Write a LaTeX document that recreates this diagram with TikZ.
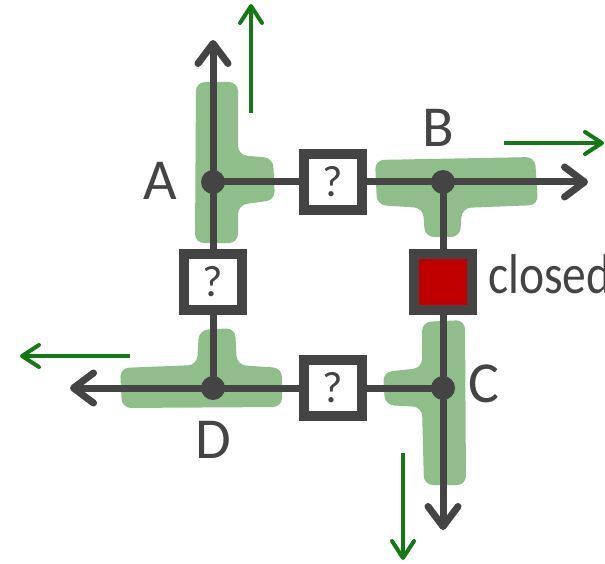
\documentclass[tikz,border=0pt]{standalone}
\usepackage{fontspec}
\setmainfont{Carlito}
\newfontfamily\narrowfont[FakeStretch=0.85]{Carlito}
\usetikzlibrary{arrows.meta}
\definecolor{pipe}{RGB}{68,68,68}
\definecolor{blob}{RGB}{143,190,139}
\definecolor{flow}{RGB}{20,120,20}
\definecolor{valvered}{RGB}{192,0,0}
\begin{document}
\begin{tikzpicture}[x=1pt,y=-1pt,
 pipeline/.style={draw=pipe,line width=7pt,line cap=round},
 pipearrow/.style={pipeline,-{Straight Barb[length=20pt,width=30pt,round]}},
 flowarrow/.style={draw=flow,line width=4pt,-{Straight Barb[length=17pt,width=22pt,round]}},
 junction/.style={circle,fill=pipe,minimum size=24pt,inner sep=0pt},
 valve/.style={draw=pipe,fill=white,line width=10pt,minimum width=58pt,minimum height=56pt,inner sep=0pt,text=pipe,font=\fontsize{44}{48}\selectfont},
 lbl/.style={text=pipe,font=\fontsize{58}{62}\selectfont,inner sep=0pt},
 blobfill/.style={fill=blob,rounded corners=9pt}]
\useasboundingbox (0,0) rectangle (605,564);
% green regions
\fill[blobfill] (196,82) -- (238,82) -- (238,155) -- (273,158) -- (275,200) -- (238,205) -- (238,243) -- (195,243) -- cycle;
\fill[blobfill] (375,160) -- (535,157) -- (538,205) -- (462,208) -- (460,237) -- (425,237) -- (423,208) -- (377,205) -- cycle;
\fill[blobfill] (422,322) -- (465,320) -- (466,485) -- (424,485) -- (422,407) -- (385,405) -- (383,372) -- (422,368) -- cycle;
\fill[blobfill] (120,368) -- (197,365) -- (199,330) -- (235,328) -- (237,365) -- (282,368) -- (282,407) -- (122,408) -- cycle;
% junctions
\node[junction] (A) at (213,182) {};
\node[junction] (B) at (443,182) {};
\node[junction] (C) at (443,388) {};
\node[junction] (D) at (213,388) {};
% valves
\node[valve] (vAB) at (333,182) {?};
\node[valve] (vAD) at (213,282) {?};
\node[valve] (vDC) at (333,388) {?};
\node[valve,fill=valvered] (vBC) at (443,282) {};
% pipe end points
\coordinate (Aend) at (213,40);
\coordinate (Bend) at (588,182);
\coordinate (Cend) at (443,530);
\coordinate (Dend) at (70,388);
% pipes
\draw[pipeline] (A) -- (vAB);
\draw[pipeline] (vAB) -- (B);
\draw[pipeline] (A) -- (vAD);
\draw[pipeline] (vAD) -- (D);
\draw[pipeline] (D) -- (vDC);
\draw[pipeline] (vDC) -- (C);
\draw[pipeline] (B) -- (vBC);
\draw[pipeline] (vBC) -- (C);
\draw[pipearrow] (A) -- (Aend);
\draw[pipearrow] (B) -- (Bend);
\draw[pipearrow] (C) -- (Cend);
\draw[pipearrow] (D) -- (Dend);
% flow arrows
\coordinate (gA0) at (251,113); \coordinate (gA1) at (251,4);
\coordinate (gB0) at (504,143); \coordinate (gB1) at (604,143);
\coordinate (gC0) at (403,453); \coordinate (gC1) at (403,560);
\coordinate (gD0) at (130,356); \coordinate (gD1) at (20,356);
\draw[flowarrow] (gA0) -- (gA1);
\draw[flowarrow] (gB0) -- (gB1);
\draw[flowarrow] (gC0) -- (gC1);
\draw[flowarrow] (gD0) -- (gD1);
% labels
\node[lbl] (lA) at (160,181) {A};
\node[lbl] (lB) at (438,128) {B};
\node[lbl] (lC) at (484,384) {C};
\node[lbl] (lD) at (213,440) {D};
\node[lbl,font=\narrowfont\fontsize{56}{60}\selectfont,anchor=base west] (lclosed) at (488,293) {closed};
\end{tikzpicture}
\end{document}
